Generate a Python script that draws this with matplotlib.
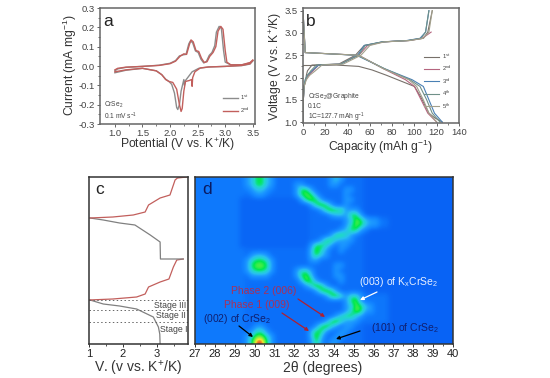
import numpy as np
import matplotlib
matplotlib.use("Agg")
import matplotlib.pyplot as plt
from matplotlib.colors import LinearSegmentedColormap

plt.rcParams['font.family'] = ['Liberation Sans', 'DejaVu Sans']
plt.rcParams['mathtext.fontset'] = 'custom'
plt.rcParams['mathtext.rm'] = 'Liberation Sans'
plt.rcParams['mathtext.it'] = 'Liberation Sans'
plt.rcParams['mathtext.default'] = 'rm'

W, H = 550, 378
nan = float('nan')

# panel a, cyclic voltammetry
cv2_up_v = [1.0, 1.05, 1.2, 1.5, 1.8, 2.0, 2.1, 2.18, 2.25, 2.3, 2.35, 2.38, 2.42, 2.47, 2.52, 2.57, 2.62, 2.67, 2.72, 2.78, 2.83, 2.87, 2.92, 2.96, 3.0, 3.03, 3.1, 3.3, 3.45, 3.5]
cv2_up_i = [-0.02, -0.012, -0.006, -0.002, 0.003, 0.012, 0.025, 0.05, 0.063, 0.06, 0.11, 0.135, 0.125, 0.08, 0.075, 0.04, 0.018, 0.022, 0.05, 0.07, 0.1, 0.18, 0.205, 0.19, 0.08, 0.02, 0.006, 0.006, 0.018, 0.03]
cv2_dn_v = [3.5, 3.45, 3.3, 3.0, 2.7, 2.55, 2.45, 2.41, 2.4, 2.39, 2.35, 2.28, 2.25, 2.22, 2.2, 2.17, 2.12, 2.05, 1.98, 1.92, 1.85, 1.75, 1.5, 1.2, 1.0]
cv2_dn_i = [0.03, 0.012, 0.003, -0.002, -0.005, -0.01, -0.03, -0.06, -0.105, -0.07, -0.075, -0.08, -0.13, -0.22, -0.235, -0.2, -0.12, -0.085, -0.08, -0.07, -0.045, -0.025, -0.012, -0.02, -0.03]
cv1_up_v = [1.0, 1.05, 1.2, 1.5, 1.8, 2.0, 2.1, 2.17, 2.24, 2.29, 2.34, 2.37, 2.41, 2.46, 2.51, 2.56, 2.61, 2.66, 2.71, 2.76, 2.81, 2.84, 2.89, 2.93, 2.97, 3.0, 3.1, 3.3, 3.45, 3.5]
cv1_up_i = [-0.025, -0.015, -0.007, -0.002, 0.004, 0.014, 0.028, 0.052, 0.058, 0.06, 0.115, 0.13, 0.12, 0.078, 0.07, 0.035, 0.016, 0.024, 0.055, 0.07, 0.105, 0.175, 0.205, 0.195, 0.08, 0.02, 0.006, 0.006, 0.016, 0.028]
cv1_dn_v = [3.5, 3.45, 3.3, 3.0, 2.7, 2.52, 2.4, 2.32, 2.28, 2.26, 2.25, 2.2, 2.17, 2.14, 2.12, 2.08, 2.03, 1.98, 1.92, 1.85, 1.75, 1.5, 1.2, 1.0]
cv1_dn_i = [0.026, 0.01, 0.002, -0.002, -0.005, -0.012, -0.03, -0.06, -0.075, -0.1, -0.07, -0.13, -0.2, -0.225, -0.215, -0.14, -0.095, -0.08, -0.068, -0.045, -0.025, -0.012, -0.022, -0.035]

# panel b, charge and discharge for each cycle
cycle_names = ['1$^{st}$', '2$^{nd}$', '3$^{rd}$', '4$^{th}$', '5$^{th}$']
charge_v = [1.0, 1.5, 1.8, 1.95, 2.05, 2.15, 2.28, 2.29, 2.3, 2.5, 2.72, 2.8, 2.83, 2.88, 3.02, 3.5]
charge_caps = [
    [0, 0.3, 1, 2.5, 3, 4, 8, 18, 32, 47, 55, 72, 95, 108, 112, 116],
    [0, 0.3, 1, 2.5, 5, 9, 14, 22, 33, 50, 58, 72, 95, 107, 115, nan],
    [0, 0.3, 1, 2, 4, 8, 14, 22, 34, 49, 55, 71, 93, 105, 110, 113],
    [0, 0.3, 1, 2, 4, 7, 12, 20, 33, 50, 56, 71, 94, 106, 110, 113],
    [0, 0.3, 1, 3, 6, 11, 17, 24, 36, 52, 60, 73, 96, 108, 113, 116],
]
discharge_v = [3.5, 2.56, 2.5, 2.2, 1.95, 1.8, 1.5, 1.2, 1.0]
discharge_caps = [
    [0, 2, 50, 72, 92, 100, 106, 112, 120],
    [0, 2, 48, 73, 98, 108, 113, 118, 125],
    [0, 2, 49, 73, 96, 105, 111, 116, 123],
    [0, 2, 50, 72, 95, 102, 108, 113, 120],
]
first_dis_cap = [0, 10, 30, 50, 62, 75, 90, 100, 106, 113, 118, 125]
first_dis_v = [2.27, 2.27, 2.28, 2.25, 2.17, 2.05, 1.9, 1.8, 1.55, 1.2, 1.1, 1.0]

# panel c, voltage against time, read upwards from the bottom of the panel
c_grey1_v = [3.09, 3.08, 3.04, 2.89, 2.4, 1.9, 1.42, 1.03]
c_grey1_t = [0, 10, 17, 27, 35, 38, 40, 44]
c_red1_v = [1.0, 1.7, 2.4, 2.65, 2.75, 3.09, 3.35, 3.48, 3.58, 3.77]
c_red1_t = [44, 45, 47, 50, 57, 62, 65, 77, 84, 85]
c_grey2_v = [3.77, 3.1, 3.09, 2.8, 2.35, 1.9, 1.42, 1.03]
c_grey2_t = [85, 85, 102, 109, 119, 121, 124, 126]
c_red2_v = [1.03, 1.7, 2.3, 2.65, 2.75, 3.09, 3.38, 3.53, 3.6, 3.87]
c_red2_t = [126, 127, 129, 132, 139, 146, 149, 164, 166, 167]
stage_t = [44, 34, 22]
stage_names = ['Stage III', 'Stage II', 'Stage I']

# panel d, heat map levels on a 0.25 degree by scan step grid
n_rows, n_cols = 33, 52
# first row, last row, first col, last col, level
map_background = [
    (0, 32, 0, 9, 1.8), (0, 32, 10, 33, 1.5), (4, 13, 9, 22, 1.2), (0, 32, 34, 51, 1.1),
    (8, 9, 34, 38, 1.7), (23, 28, 33, 38, 1.7),
]
# scan row, first column, levels from there on
map_cells = [
    (0, 10, "346643"), (1, 10, "346643"), (2, 10, "234432"), (3, 11, "2332"),
    (0, 27, "343"), (1, 27, "33"),
    (1, 20, "33"), (2, 20, "3663"), (3, 20, "36763"), (4, 21, "36763"), (5, 23, "36763"), (6, 25, "367663"), (7, 27, "3443"),
    (2, 30, "33"), (3, 30, "3"), (4, 30, "33"), (5, 30, "3"),
    (6, 31, "33"), (7, 30, "3663"), (8, 30, "3476433"), (9, 30, "3576433"), (10, 29, "346632"), (11, 27, "366532"),
    (12, 25, "366432"), (13, 23, "36653"), (14, 23, "4753"), (15, 23, "4643"), (16, 23, "33"),
    (12, 30, "33"), (13, 29, "33"), (14, 29, "3"),
    (15, 11, "3443"), (16, 10, "356653"), (17, 10, "367763"), (18, 10, "356653"), (19, 11, "3333"),
    (18, 20, "3553"), (19, 20, "3674"), (20, 21, "4763"), (21, 22, "35763"), (22, 24, "36763"), (23, 26, "36753"),
    (17, 28, "33"), (18, 28, "3"), (19, 28, "33"), (20, 29, "3"),
    (23, 30, "3553"), (24, 30, "3673"), (25, 30, "347643"), (26, 30, "357633"), (27, 28, "356643"),
    (28, 26, "36753"), (29, 24, "36753"), (30, 23, "4663"), (31, 23, "474"), (32, 23, "363"),
    (28, 31, "33"), (29, 30, "33"), (30, 29, "33"), (31, 28, "33"), (32, 27, "33"),
    (29, 12, "33"), (30, 11, "3553"), (31, 10, "357753"), (32, 10, "369963"),
]

map_colors = ['#0040dc', '#0860f4', '#1080ff', '#1c98ff', '#28c0f0', '#20d8c8', '#00e850', '#70f040', '#f0e830', '#e83020']

grey = '#444444'


def fig_xy(px, py):
    return px / W, 1 - py / H


def panel(left, top, right, bottom):
    return fig.add_axes([left / W, 1 - bottom / H, (right - left) / W, (bottom - top) / H])


def style(ax, color='#666666'):
    for s in ax.spines.values():
        s.set_color(color)
        s.set_linewidth(1.1)
    ax.tick_params(which='major', length=2.5, width=0.7, color=color, labelcolor=grey, labelsize=6.8, pad=1.2)
    ax.tick_params(which='minor', length=1.5, width=0.6, color=color)


fig = plt.figure(figsize=(W / 100, H / 100), dpi=100, facecolor='white')

# a
ax = panel(100, 8, 255, 124)
ax.plot(cv1_up_v, cv1_up_i, color='#8c8c8c', lw=1.0)
ax.plot(cv1_dn_v, cv1_dn_i, color='#8c8c8c', lw=1.0, label='1$^{st}$')
ax.plot(cv2_up_v, cv2_up_i, color='#c25f5c', lw=1.0)
ax.plot(cv2_dn_v, cv2_dn_i, color='#c25f5c', lw=1.0, label='2$^{nd}$')
ax.set_xlim(0.73, 3.54)
ax.set_ylim(-0.3, 0.3)
ax.set_xticks(np.arange(1.0, 3.6, 0.5))
ax.set_xticks(np.arange(1.0, 3.6, 0.25), minor=True)
ax.set_yticks(np.arange(-0.3, 0.31, 0.1))
ax.set_yticks(np.arange(-0.25, 0.3, 0.1), minor=True)
ax.set_xticklabels(['1.0', '1.5', '2.0', '2.5', '3.0', '3.5'])
ax.set_yticklabels(['-0.3', '-0.2', '-0.1', '0.0', '0.1', '0.2', '0.3'])
style(ax)
ax.legend(loc='lower right', bbox_to_anchor=(0.985, 0.05), frameon=False, fontsize=4.2, handlelength=2.6,
          labelspacing=0.75, handletextpad=0.4, borderpad=0, labelcolor=grey)

# b
ax = panel(303, 8, 459, 123)
b_colors = ['#77706a', '#b5657f', '#4a80b4', '#6f9088', '#a3a08c']
ax.plot(first_dis_cap, first_dis_v, color=b_colors[0], lw=0.8)
for i in range(5):
    ax.plot(charge_caps[i], charge_v, color=b_colors[i], lw=0.8, label=cycle_names[i])
    if i > 0:
        ax.plot(discharge_caps[i - 1], discharge_v, color=b_colors[i], lw=0.8)
ax.set_xlim(0, 140)
ax.set_ylim(0.98, 3.56)
ax.set_xticks(range(0, 141, 20))
ax.set_xticks(range(10, 140, 20), minor=True)
ax.set_yticks(np.arange(1.0, 3.6, 0.5))
ax.set_yticks(np.arange(1.25, 3.5, 0.5), minor=True)
ax.set_yticklabels(['1.0', '1.5', '2.0', '2.5', '3.0', '3.5'])
style(ax)
ax.legend(loc='upper right', bbox_to_anchor=(0.97, 0.645), frameon=False, fontsize=4.2, handlelength=2.6,
          labelspacing=0.55, handletextpad=0.4, borderpad=0, labelcolor=grey)

# c
ax = panel(89, 177, 188, 344)
ax.plot(c_grey1_v, c_grey1_t, color='#808080', lw=0.9)
ax.plot(c_red1_v, c_red1_t, color='#c25f5c', lw=0.9)
ax.plot(c_grey2_v, c_grey2_t, color='#808080', lw=0.9)
ax.plot(c_red2_v, c_red2_t, color='#c25f5c', lw=0.9)
ax.hlines(stage_t, 1, 3.91, color='#666666', lw=0.7, linestyles=(0, (1.5, 2.5)))
ax.set_xlim(1, 3.91)
ax.set_ylim(0, 167)
ax.set_xticks([1, 2, 3])
ax.set_xticks([1.5, 2.5, 3.5], minor=True)
ax.set_yticks([])
style(ax, '#333333')
ax.tick_params(labelcolor='#222222', labelsize=8)
for (name, px, py) in zip(stage_names, [186, 186, 188], [305, 316, 330]):
    fig.text(*fig_xy(px, py), name, ha='right', va='center', fontsize=6.3, color=grey)

# d
levels = np.ones((n_rows, n_cols))
for r0, r1, c0, c1, val in map_background:
    levels[r0:r1 + 1, c0:c1 + 1] = val
for row, col, vals in map_cells:
    levels[row, col:col + len(vals)] = [int(v) for v in vals]
cmap = LinearSegmentedColormap.from_list('map', map_colors)
ax = panel(195, 177, 453, 344)
ax.imshow(levels, cmap=cmap, vmin=0, vmax=9, extent=(27, 40, 0, 167), aspect='auto', interpolation='bicubic')
ax.set_xticks(range(27, 41))
ax.set_xticks(np.arange(27.5, 40, 0.5), minor=True)
ax.set_yticks([])
style(ax, '#333333')
ax.tick_params(labelcolor='#222222', labelsize=8)

# axis titles and letters
label_kw = dict(ha='center', va='center', fontsize=8.7, color='#333333')
fig.text(*fig_xy(178, 145), 'Potential (V vs. K$^{+}$/K)', **label_kw)
fig.text(*fig_xy(70, 65), 'Current (mA mg$^{-1}$)', rotation=90, **label_kw)
fig.text(*fig_xy(381, 147), 'Capacity (mAh g$^{-1}$)', **label_kw)
fig.text(*fig_xy(276, 66), 'Voltage (V vs. K$^{+}$/K)', rotation=90, **label_kw)
fig.text(*fig_xy(138, 369), 'V. (v vs. K$^{+}$/K)', ha='center', va='center', fontsize=10, color='#333333')
fig.text(*fig_xy(323, 368), '2θ (degrees)', ha='center', va='center', fontsize=10, color='#333333')
for (name, px, py, c) in [('a', 108, 21, '#222222'), ('b', 311, 21, '#222222'), ('c', 100, 190, '#222222'), ('d', 207, 190, '#0a1a60')]:
    fig.text(*fig_xy(px, py), name, ha='center', va='center', fontsize=12.5, color=c)

# notes inside a and b
note_kw = dict(ha='left', va='center', fontsize=4.8, color=grey)
fig.text(*fig_xy(104, 105), 'CrSe$_{2}$', **note_kw)
fig.text(*fig_xy(104, 116), '0.1 mV s$^{-1}$', **note_kw)
fig.text(*fig_xy(308, 97), 'CrSe$_{2}$@Graphite', **note_kw)
fig.text(*fig_xy(308, 107), '0.1C', **note_kw)
fig.text(*fig_xy(308, 117), '1C=127.7 mAh g$^{-1}$', **note_kw)

# notes on the map
map_notes = [
    ('(003) of K$_{x}$CrSe$_{2}$', 398, 282, '#e8f0ff', 377, 292, 360, 300, 'white'),
    ('Phase 2 (006)', 264, 291, '#a8305a', 298, 299, 325, 317, '#b02030'),
    ('Phase 1 (009)', 257, 305, '#a8305a', 282, 313, 309, 331, '#b02030'),
    ('(002) of CrSe$_{2}$', 237, 319, '#102070', 239, 326, 253, 337, 'black'),
    ('(101) of CrSe$_{2}$', 405, 328, '#102070', 360, 331, 336, 339, 'black'),
]
for (name, tx, ty, c, x0, y0, x1, y1, ac) in map_notes:
    fig.text(*fig_xy(tx, ty), name, ha='center', va='center', fontsize=7.5, color=c)
    ax.annotate('', xy=fig_xy(x1, y1), xytext=fig_xy(x0, y0), xycoords='figure fraction', textcoords='figure fraction',
                arrowprops=dict(arrowstyle='-|>', color=ac, lw=0.9, mutation_scale=5, shrinkA=0, shrinkB=0))

fig.savefig('out.png', dpi=100)
